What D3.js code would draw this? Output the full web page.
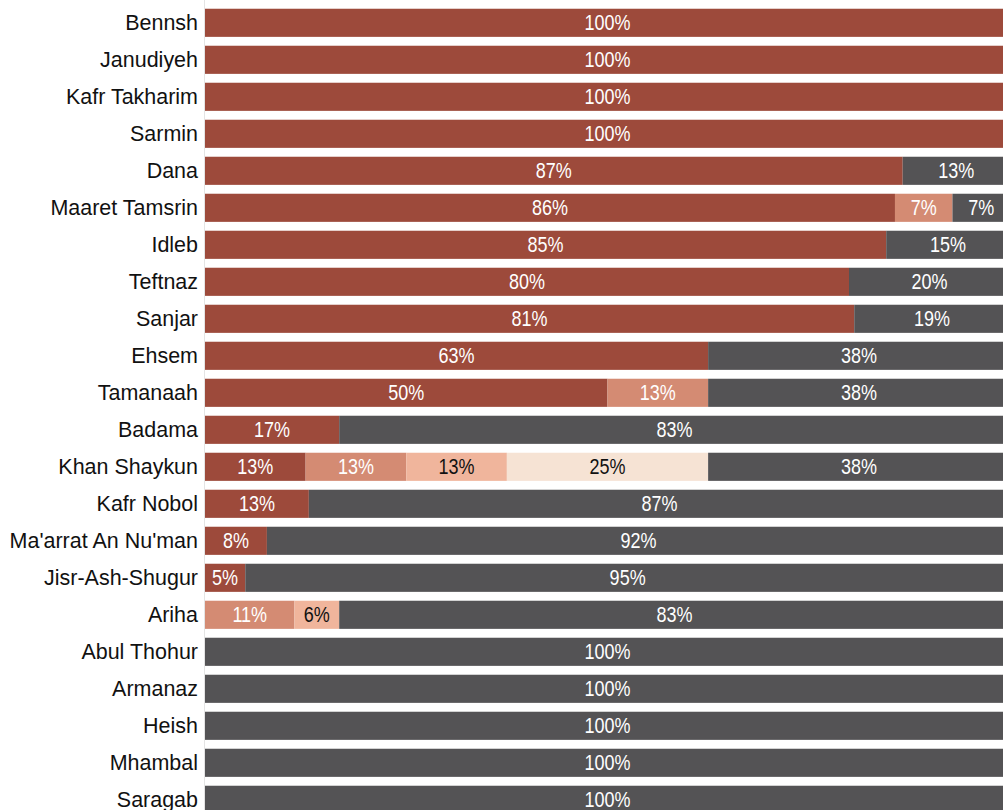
<!DOCTYPE html>
<html>
<head>
<meta charset="utf-8">
<script src="https://cdn.jsdelivr.net/npm/d3@7"></script>
<style>
  html, body { margin: 0; padding: 0; background: #ffffff; overflow: hidden; }
  svg { display: block; }
</style>
</head>
<body>
<svg id="chart" width="1003" height="810"></svg>
<script>
// Towns, top to bottom
const categories = [
  "Bennsh", "Janudiyeh", "Kafr Takharim", "Sarmin", "Dana", "Maaret Tamsrin",
  "Idleb", "Teftnaz", "Sanjar", "Ehsem", "Tamanaah", "Badama", "Khan Shaykun",
  "Kafr Nobol", "Ma'arrat An Nu'man", "Jisr-Ash-Shugur", "Ariha", "Abul Thohur",
  "Armanaz", "Heish", "Mhambal", "Saragab"
];

// Share of responses (%) per town, one array per stacked segment
const series1 = [100, 100, 100, 100, 86.67, 85.71, 84.62, 80, 80.65, 62.5, 50, 16.67, 12.5, 12.9, 7.69, 5, 0, 0, 0, 0, 0, 0];
const series2 = [0, 0, 0, 0, 0, 7.14, 0, 0, 0, 0, 12.5, 0, 12.5, 0, 0, 0, 11.11, 0, 0, 0, 0, 0];
const series3 = [0, 0, 0, 0, 0, 0, 0, 0, 0, 0, 0, 0, 12.5, 0, 0, 0, 5.56, 0, 0, 0, 0, 0];
const series4 = [0, 0, 0, 0, 0, 0, 0, 0, 0, 0, 0, 0, 25, 0, 0, 0, 0, 0, 0, 0, 0, 0];
const series5 = [0, 0, 0, 0, 13.33, 7.14, 15.38, 20, 19.35, 37.5, 37.5, 83.33, 37.5, 87.1, 92.31, 95, 83.33, 100, 100, 100, 100, 100];

const seriesKeys = ["s1", "s2", "s3", "s4", "s5"];
const fills = { s1: "#9d4a3b", s2: "#d48b73", s3: "#f0b59c", s4: "#f6e3d4", s5: "#545355" };
const textFills = { s1: "#ffffff", s2: "#ffffff", s3: "#111111", s4: "#111111", s5: "#ffffff" };

const rows = categories.map((c, i) => ({
  town: c, s1: series1[i], s2: series2[i], s3: series3[i], s4: series4[i], s5: series5[i]
}));

const svg = d3.select("#chart");

const x = d3.scaleLinear().domain([0, 100]).range([205, 1010]);
const y = d3.scaleBand()
  .domain(categories)
  .range([4.3, 4.3 + 37 * categories.length])
  .paddingInner(0.24)
  .paddingOuter(0.12);

const stacked = d3.stack().keys(seriesKeys)(rows);

// Baseline rule at the left edge of the bars
svg.append("line")
  .attr("x1", x(0) - 0.5).attr("x2", x(0) - 0.5)
  .attr("y1", 0).attr("y2", 810)
  .attr("stroke", "#e4e4e4").attr("stroke-width", 1);

const layers = svg.append("g").selectAll("g")
  .data(stacked)
  .join("g")
  .attr("fill", d => fills[d.key]);

layers.selectAll("rect")
  .data(d => d.map(v => ({ key: d.key, v })))
  .join("rect")
  .attr("x", d => x(d.v[0]))
  .attr("y", d => y(d.v.data.town))
  .attr("width", d => Math.max(0, x(d.v[1]) - x(d.v[0])))
  .attr("height", y.bandwidth());

// Value labels centred in each segment, set in a condensed face
const labelSqueeze = 0.8;
const labels = svg.append("g")
  .attr("font-family", "'Liberation Sans', Arial, sans-serif")
  .attr("font-size", 22.5)
  .attr("text-anchor", "middle");

stacked.forEach(layer => {
  labels.selectAll(null)
    .data(layer.filter(v => v[1] - v[0] > 0))
    .join("text")
    .attr("transform", v =>
      `translate(${(x(v[0]) + x(v[1])) / 2},${y(v.data.town) + y.bandwidth() / 2}) scale(${labelSqueeze},1)`)
    .attr("dy", "0.33em")
    .attr("fill", textFills[layer.key])
    .text(v => Math.round(v[1] - v[0]) + "%");
});

// Category axis
const nameSqueeze = 0.955;
const yAxis = d3.axisLeft(y).tickSize(0).tickPadding(7);
const yg = svg.append("g")
  .attr("transform", `translate(${x(0)},0)`)
  .call(yAxis);
yg.select(".domain").remove();
yg.selectAll("text")
  .attr("font-family", "'Liberation Sans', Arial, sans-serif")
  .attr("font-size", 22.5)
  .attr("fill", "#111111")
  .attr("x", -7 / nameSqueeze)
  .attr("transform", `scale(${nameSqueeze},1)`);
</script>
</body>
</html>
